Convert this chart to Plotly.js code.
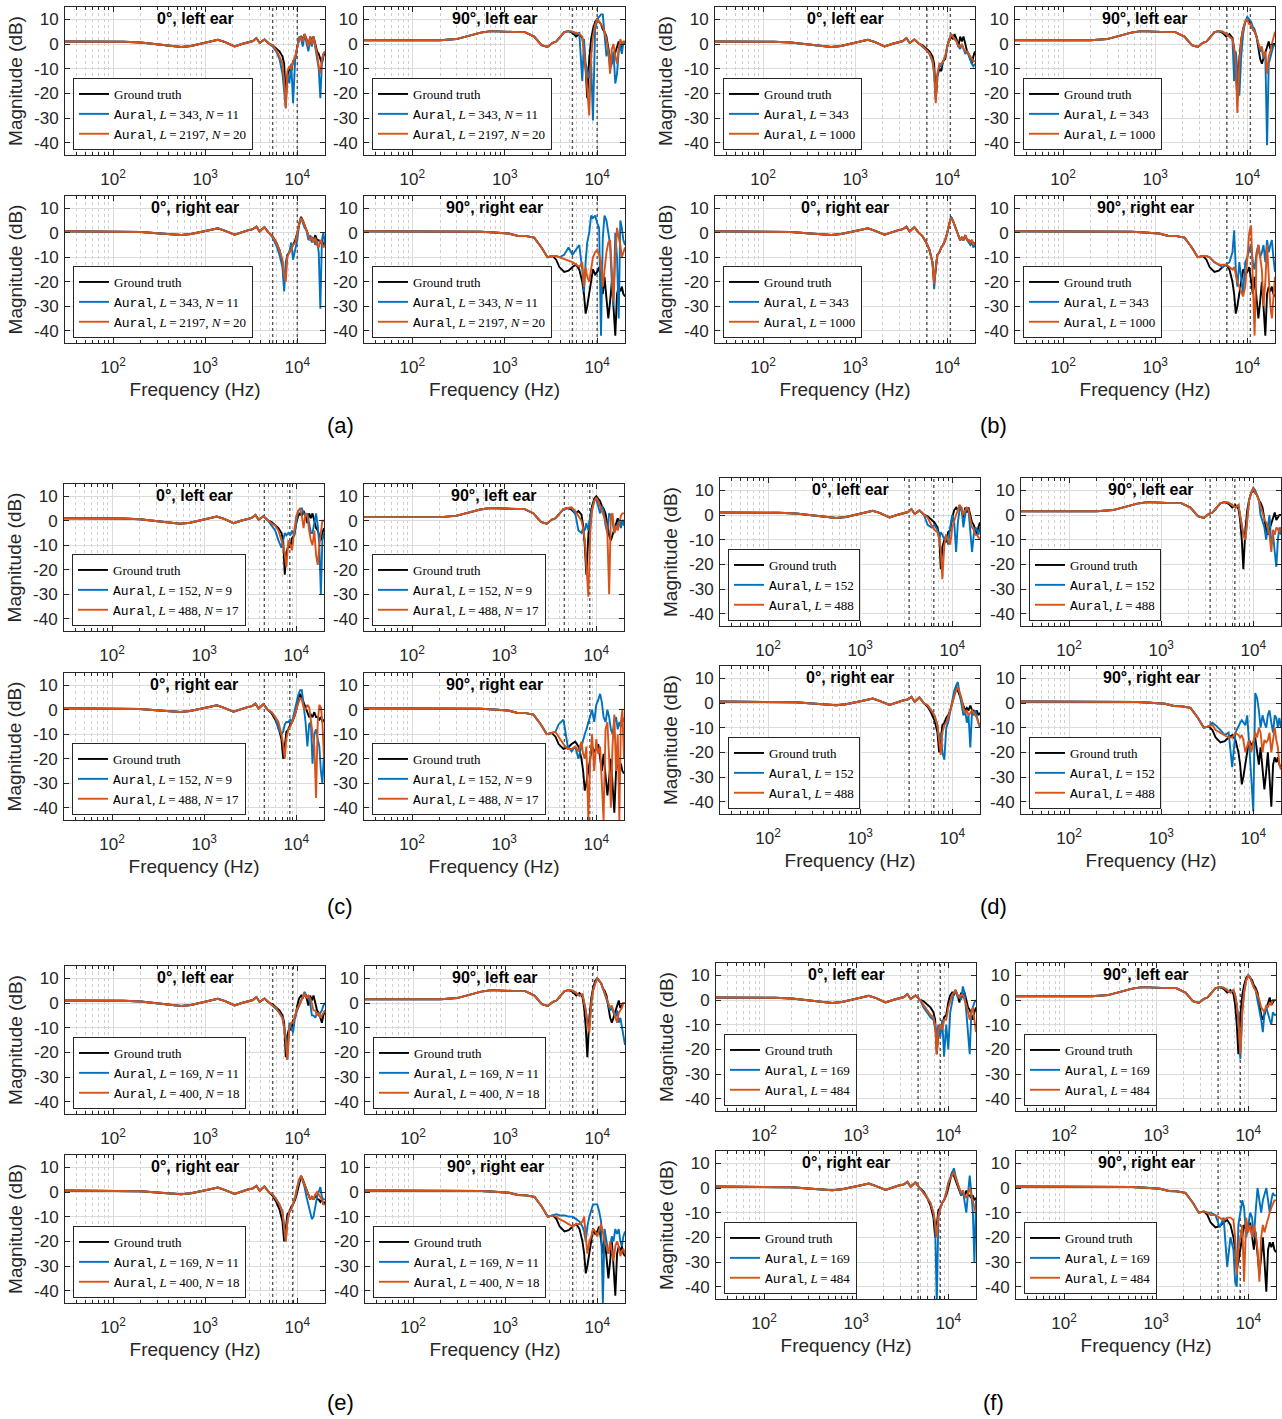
<!DOCTYPE html>
<html><head><meta charset="utf-8">
<script src="https://cdn.plot.ly/plotly-3.0.1.min.js"></script>
<style>html,body{margin:0;padding:0;background:#fff}#chart{width:1282px;height:1419px}</style>
</head><body><div id="chart"></div>
<script>
// ---------- DATA ----------
const freq = [30,50,80,130,200,300,420,550,700,900,1100,1370,1650,2080,2500,2900,3300,3600,3900,4400,4900,5400,5900,6400,6900,7200,7500,7800,8200,8600,9000,9500,10000,10500,11000,11500,12000,12600,13200,13800,14400,15000,15700,16400,17100,17800,18500,19200,20000];

// Ground truth (same subject in every panel group)
const gt0L  = [1,1,1,0.9,0.6,0,-0.6,-1.2,-0.8,0.2,0.8,1.7,0.8,-1,0,0.8,1.2,2.4,0.4,1.8,0.2, -0.5,-2,-3,-5,-8,-22,-13,-10,-11,-7,-6,-1,2,3,2,4,2,-1,3,1,3,0,-3,-4,-6,-8,-5,-3];
const gt90L = [1.5,1.5,1.5,1.5,1.5,2,3.3,4.6,5.2,5,4.8,4.8,4.8,3,-0.5,-1.2,0.5,1,2.5,4.8,5.2, 4.5,3,4,2.5,-2,-10,-22,-6,2,6,9,10,9,8,6,5,3,-2,-6,-8,-6,-3,-1,1,-2,-1,0,0];
const gt0R  = [0.6,0.6,0.6,0.5,0.3,-0.2,-0.6,-0.9,-0.5,0.5,1,1.8,0.8,-0.8,0.3,1,1.5,2.5,0.5,2.3,0, -1.5,-4,-7,-12,-20,-15,-9,-8,-6,-5,-3,0,4,6.5,5,3,1,-1,-3,-2,-3,-1,-3,-3,-4,-3,-5,-4];
const gt90R = [0.6,0.6,0.6,0.6,0.6,0.5,0.5,0.4,0.2,0,-0.3,-1.2,-1.3,-2,-6,-10,-9.5,-11,-14,-16,-15.5, -14,-13,-15,-20,-25,-33,-30,-24,-20,-15,-17,-16,-14,-20,-25,-18,-26,-35,-28,-20,-30,-42,-25,-22,-24,-22,-25,-26];

// (a)
const a0L_blue  = [1,1,1,0.9,0.6,0,-0.6,-1.2,-0.8,0.2,0.8,1.7,0.8,-1,0,0.8,1.2,2.4,0.4,1.8,0.2, -1,-3,-6,-12,-18,-26,-12,-16,-8,-24,-6,-2,3,2,-1,4,1,-3,2,-1,3,-1,-5,-10,-22,-8,-4,-3];
const a0L_orange= [1,1,1,0.9,0.6,0,-0.6,-1.2,-0.8,0.2,0.8,1.7,0.8,-1,0,0.8,1.2,2.4,0.4,1.8,0.2, -0.5,-2.5,-5,-8,-15,-26,-11,-9,-10,-7,-5,-1,2,3,1,4,2,-1,3,0,3,-1,-4,-9,-12,-6,-4,-3];
const a90L_blue = [1.5,1.5,1.5,1.5,1.5,2,3.3,4.6,5.2,5,4.8,4.8,4.8,3,-0.5,-1.2,0.5,1,2.5,4.8,5.2, 5,4,4.5,-15,2,-8,-10,-14,-8,-31,6,10,11,12,12,5,-5,-2,-10,-8,-3,-16,-12,-3,-1,-4,1,0];
const a90L_orange=[1.5,1.5,1.5,1.5,1.5,2,3.3,4.6,5.2,5,4.8,4.8,4.8,3,-0.5,-1.2,0.5,1,2.5,4.8,5.2, 5,4.5,4,3,-3,-10,-18,-29,-5,3,8,10,9,8,7,5,2,-3,-12,-2,0,-5,-8,-2,2,0,1,1];
const a0R_blue  = [0.6,0.6,0.6,0.5,0.3,-0.2,-0.6,-0.9,-0.5,0.5,1,1.8,0.8,-0.8,0.3,1,1.5,2.5,0.5,2.3,0, -2,-5,-9,-14,-24,-12,-9,-8,-4,-11,-6,-3,4,6,4,2,1,-3,-1,-4,-2,-5,-3,-8,-31,-3,0,-5];
const a0R_orange= [0.6,0.6,0.6,0.5,0.3,-0.2,-0.6,-0.9,-0.5,0.5,1,1.8,0.8,-0.8,0.3,1,1.5,2.5,0.5,2.3,0, -1.5,-4,-7,-11,-17,-20,-10,-8,-7,-5,-4,0,4,6,5,3,1,-1,-3,-2,-4,-2,-5,-6,-3,-4,-6,-5];
const a90R_blue = [0.6,0.6,0.6,0.6,0.6,0.5,0.5,0.4,0.2,0,-0.3,-1.2,-1.3,-2,-6,-10,-9.5,-9.5,-10,-9,-6, -9,-7,-5,-15,-24,-12,-4,0,7,6,7,4,2,-42,-2,7,5,0,-5,-20,-30,0,-10,-35,5,2,-3,-5];
const a90R_orange=[0.6,0.6,0.6,0.6,0.6,0.5,0.5,0.4,0.2,0,-0.3,-1.2,-1.3,-2,-6,-10,-9.5,-9.5,-10,-11,-11.5, -12,-13,-14,-12,-22,-14,-18,-20,-14,-10,-8,-7,-9,-12,-22,-15,-8,-4,-3,-15,-28,-10,2,-2,-5,-10,-8,-6];

// (b)
const b0L_blue  = [1,1,1,0.9,0.6,0,-0.6,-1.2,-0.8,0.2,0.8,1.7,0.8,-1,0,0.8,1.2,2.4,0.4,1.8,0.2, -1,-2.5,-4,-7,-12,-23,-13,-9,-9,-7,-5,-1,2,4,3,2,1,-1,-2,0,-2,-4,-3,-5,-6,-8,-9,-8];
const b0L_orange= [1,1,1,0.9,0.6,0,-0.6,-1.2,-0.8,0.2,0.8,1.7,0.8,-1,0,0.8,1.2,2.4,0.4,1.8,0.2, -0.8,-2.3,-3.8,-6.5,-11,-24,-12,-8,-8,-7,-5,-1,2,4,3,2,1,-1,-1,0,-2,-3,-3,-4,-5,-6,-7,-7];
const b90L_blue = [1.5,1.5,1.5,1.5,1.5,2,3.3,4.6,5.2,5,4.8,4.8,4.8,3,-0.5,-1.2,0.5,1,2.5,4.8,5.2, 5,4,3,2,-15,-3,-10,-21,-5,4,9,11,10,9,7,6,3,0,-3,-2,-6,-4,-41,-8,-5,-3,-1,0];
const b90L_orange=[1.5,1.5,1.5,1.5,1.5,2,3.3,4.6,5.2,5,4.8,4.8,4.8,3,-0.5,-1.2,0.5,1,2.5,4.8,5.2, 5,4,3,2,-2,-8,-28,-8,2,6,9,10,8,8,6,5,3,0,-2,-1,-5,-3,-12,-5,-3,0,2,5];
const b0R_blue  = [0.6,0.6,0.6,0.5,0.3,-0.2,-0.6,-0.9,-0.5,0.5,1,1.8,0.8,-0.8,0.3,1,1.5,2.5,0.5,2.3,0, -1.5,-4,-7,-12,-23,-14,-9,-8,-6,-5,-3,0,4,6.5,5,3,1,-1,-3,-2,-3,-1,-3,-4,-5,-4,-6,-5];
const b0R_orange= [0.6,0.6,0.6,0.5,0.3,-0.2,-0.6,-0.9,-0.5,0.5,1,1.8,0.8,-0.8,0.3,1,1.5,2.5,0.5,2.3,0, -1.5,-4,-7,-12,-21,-14,-9,-8,-6,-5,-3,0,4,6,5,3,1,-1,-3,-2,-3,-1,-3,-3,-4,-3,-5,-4];
const b90R_blue = [0.6,0.6,0.6,0.6,0.6,0.5,0.5,0.4,0.2,0,-0.3,-1.2,-1.3,-2,-6,-10,-9.5,-9.5,-10,-12,-13, -14,-13,-12,-8,1,-15,-22,-12,-18,-25,-12,-10,-7,-5,-12,-15,-8,-5,-10,-8,-5,-12,-3,-8,-5,-3,-10,-16];
const b90R_orange=[0.6,0.6,0.6,0.6,0.6,0.5,0.5,0.4,0.2,0,-0.3,-1.2,-1.3,-2,-6,-10,-9.5,-9.5,-10,-12,-13, -13,-13,-14,-15,-14,-17,-20,-22,-24,-26,-22,-12,0,3,-20,-42,-10,-5,-10,-15,-30,-20,-5,-20,-30,-35,-25,-18];

// (c)
const c0L_blue  = [1,1,1,0.9,0.6,0,-0.6,-1.2,-0.8,0.2,0.8,1.7,0.8,-1,0,0.8,1.2,2.4,0.4,1.8,0.2, -2,-4,-8,-11,-8,-5,-6,-5,-6,-4,-6,-1,4,5,5,3,2,3,-1,-5,-5,0,3,-2,-10,-30,-8,-5];
const c0L_orange= [1,1,1,0.9,0.6,0,-0.6,-1.2,-0.8,0.2,0.8,1.7,0.8,-1,0,0.8,1.2,2.4,0.4,1.8,0.2, -1,-2,-4,-8,-10,-14,-19,-8,-10,-12,-4,2,4,5,2,-3,3,2,-4,-8,-10,-4,-14,-18,-10,-5,0,0];
const c90L_blue = [1.5,1.5,1.5,1.5,1.5,2,3.3,4.6,5.2,5,4.8,4.8,4.8,3,-0.5,-1.2,0.5,1,2.5,4.8,5.2, 5,3,-4,-5,-3,-4,-1,-4,2,5,8,9,6,3,6,4,-2,-5,3,2,0,-5,-3,-1,0,-3,0,-2];
const c90L_orange=[1.5,1.5,1.5,1.5,1.5,2,3.3,4.6,5.2,5,4.8,4.8,4.8,3,-0.5,-1.2,0.5,1,2.5,4.8,5.2, 5.5,4,2,0,-3,-8,-18,-31,-5,4,8,9.5,8,6,4,2,0,-5,-30,2,3,-5,-2,-4,0,2,3,3];
const c0R_blue  = [0.6,0.6,0.6,0.5,0.3,-0.2,-0.6,-0.9,-0.5,0.5,1,1.8,0.8,-0.8,0.3,1,1.5,2.5,0.5,2.3,0, -1,-3,-8,-10,-9,-6,-5,-5,-4,-5,-1,3,6,8,8,2,-5,-15,-6,-5,-22,-10,-8,-12,-15,-25,-30,-18];
const c0R_orange= [0.6,0.6,0.6,0.5,0.3,-0.2,-0.6,-0.9,-0.5,0.5,1,1.8,0.8,-0.8,0.3,1,1.5,2.5,0.5,2.3,0, -1,-3,-5,-10,-14,-20,-12,-8,-7,-5,-3,0,3,5,4,1,0,2,1,-5,-10,-15,-36,-5,2,1,-5,-20];
const c90R_blue = [0.6,0.6,0.6,0.6,0.6,0.5,0.5,0.4,0.2,0,-0.3,-1.2,-1.3,-2,-6,-10,-9.5,-9,-6,-4,-15, -17,-15,-20,-15,-12,-10,-8,-5,-2,0,-5,2,4,6.5,3,-3,-5,0,-3,-8,-10,-5,-3,-8,-5,-7,-3,-5];
const c90R_orange=[0.6,0.6,0.6,0.6,0.6,0.5,0.5,0.4,0.2,0,-0.3,-1.2,-1.3,-2,-6,-10,-9.5,-9,-11,-14,-16, -16,-15,-17,-13,-18,-20,-15,-45,-20,-10,-25,-12,-18,-15,-30,-45,-8,-5,-20,-40,-15,-2,-25,-10,-45,-5,0,-20];

// (d)
const d0L_blue  = [1,1,1,0.9,0.6,0,-0.6,-1.2,-0.8,0.2,0.8,1.7,0.8,-1,0,0.8,1.2,2.4,0.4,1.8,0.2, -4,-5,-4,-6,-10,-7,-8,-10,-8,-12,-5,0,-3,-15,-3,2,3,-5,0,3,2,-6,-15,-8,-5,-6,-8,-5];
const d0L_orange= [1,1,1,0.9,0.6,0,-0.6,-1.2,-0.8,0.2,0.8,1.7,0.8,-1,0,0.8,1.2,2.4,0.4,1.8,0.2, -1,-4,-6,-7,-9,-15,-26,-12,-8,-10,-12,-5,-2,0,2,4,3,0,2,3,2,-2,-5,-6,-8,-8,-9,-10];
const d90L_blue = [1.5,1.5,1.5,1.5,1.5,2,3.3,4.6,5.2,5,4.8,4.8,4.8,3,-0.5,-1.2,0.5,1,2.5,4.8,5.2, 5,4,3,4,0,-5,-8,-10,0,6,9,11,10,8,6,0,-3,-5,-10,-5,0,-12,-8,-15,-21,-10,-5,-8];
const d90L_orange=[1.5,1.5,1.5,1.5,1.5,2,3.3,4.6,5.2,5,4.8,4.8,4.8,3,-0.5,-1.2,0.5,1,2.5,4.8,5.2, 5,4,3,4,0,-5,-8,-10,0,6,9,11,9,8,6,4,1,-2,-3,-5,-8,-15,-6,-8,-5,-6,-7,-5];
const d0R_blue  = [0.6,0.6,0.6,0.5,0.3,-0.2,-0.6,-0.9,-0.5,0.5,1,1.8,0.8,-0.8,0.3,1,1.5,2.5,0.5,2.3,0, -1,-3,-5,-9,-15,-12,-20,-23,-10,-8,-3,2,5,7,8.5,4,0,-5,-3,-8,-5,-18,-3,-5,-3,-6,-8,-10];
const d0R_orange= [0.6,0.6,0.6,0.5,0.3,-0.2,-0.6,-0.9,-0.5,0.5,1,1.8,0.8,-0.8,0.3,1,1.5,2.5,0.5,2.3,0, -1,-3,-5,-9,-14,-21,-12,-9,-8,-6,-3,0,3,5,6.5,4,2,-2,-4,-3,-5,-4,-3,-4,-5,-6,-8,-9];
const d90R_blue = [0.6,0.6,0.6,0.6,0.6,0.5,0.5,0.4,0.2,0,-0.3,-1.2,-1.3,-2,-6,-10,-9.5,-8,-9,-11,-13, -12,-26,-12,-9,-8,-7,-8,-9,-5,-15,-30,-44,4,2,-3,-10,-5,-8,-10,-5,-3,-8,-12,-5,-6,-10,-6,-10];
const d90R_orange=[0.6,0.6,0.6,0.6,0.6,0.5,0.5,0.4,0.2,0,-0.3,-1.2,-1.3,-2,-6,-10,-9.5,-9,-11,-12,-13, -14,-14,-12,-13,-14,-13,-15,-20,-17,-15,-20,-16,-12,-14,-10,-12,-20,-15,-16,-15,-12,-20,-14,-10,-15,-18,-25,-27];

// (e)
const e0L_blue  = [1,1,1,0.9,0.6,0,-0.6,-1.2,-0.8,0.2,0.8,1.7,0.8,-1,0,0.8,1.2,2.4,0.4,1.8,0.2, -1,-2.5,-4,-6,-10,-15,-23,-8,-10,-12,-5,-3,-1,1,3,4.5,3,2,0,-5,-5,-6,-4,-5,-4,-3,-1,0];
const e0L_orange= [1,1,1,0.9,0.6,0,-0.6,-1.2,-0.8,0.2,0.8,1.7,0.8,-1,0,0.8,1.2,2.4,0.4,1.8,0.2, -1,-2,-4,-6,-10,-15,-23,-10,-8,-8,-5,-2,-1,1,3,4,2,3,2,0,-3,-3,-5,-4,-6,-5,-4,-3];
const e90L_blue = [1.5,1.5,1.5,1.5,1.5,2,3.3,4.6,5.2,5,4.8,4.8,4.8,3,-0.5,-1.2,0.5,1,2.5,4.8,5.2, 5,4,3,3.5,0,-3,-8,-10,0,5,8,10,9,8,6,4,2,-1,-3,-2,-4,-6,-3,-8,-6,-10,-14,-17];
const e90L_orange=[1.5,1.5,1.5,1.5,1.5,2,3.3,4.6,5.2,5,4.8,4.8,4.8,3,-0.5,-1.2,0.5,1,2.5,4.8,5.2, 5,4,3,3.5,0,-3,-8,-12,0,5,8,10,9,8,6,4,2,0,-2,-1,-3,-5,-8,-4,-3,-2,0,0];
const e0R_blue  = [0.6,0.6,0.6,0.5,0.3,-0.2,-0.6,-0.9,-0.5,0.5,1,1.8,0.8,-0.8,0.3,1,1.5,2.5,0.5,2.3,0, -1,-3,-5,-8,-14,-20,-12,-8,-7,-5,-2,2,5,6.5,4,2,-2,-5,-8,-11,-10,-5,-2,0,2,-2,-3,-3];
const e0R_orange= [0.6,0.6,0.6,0.5,0.3,-0.2,-0.6,-0.9,-0.5,0.5,1,1.8,0.8,-0.8,0.3,1,1.5,2.5,0.5,2.3,0, -1,-3,-5,-8,-14,-20,-12,-8,-7,-5,-2,2,5,6.5,5,3,1,-1,-3,-2,-3,-1,0,-1,-2,-3,-5,-5];
const e90R_blue = [0.6,0.6,0.6,0.6,0.6,0.5,0.5,0.4,0.2,0,-0.3,-1.2,-1.3,-2,-6,-10,-9.5,-9,-9.5,-9.5,-10, -10,-11,-12,-14,-16,-20,-14,-10,-7,-5,-5,-5,-8,-12,-45,-15,-20,-25,-22,-18,-20,-15,-17,-15,-20,-22,-18,-16];
const e90R_orange=[0.6,0.6,0.6,0.6,0.6,0.5,0.5,0.4,0.2,0,-0.3,-1.2,-1.3,-2,-6,-10,-9.5,-10,-11,-12,-13, -14,-13,-13,-12,-10,-18,-25,-20,-18,-15,-16,-18,-15,-13,-16,-20,-22,-25,-20,-24,-28,-22,-20,-22,-26,-24,-23,-25];

// (f)
const f0L_blue  = [1,1,1,0.9,0.6,0,-0.6,-1.2,-0.8,0.2,0.8,1.7,0.8,-1,0,0.8,1.2,2.4,0.4,1.8,0.2, -3,-5,-7,-8,-11,-15,-10,-15,-8,-23,-10,-20,-5,0,3,4,1,2,0,5.5,3,-5,-14,-22,-5,-3,-1,0];
const f0L_orange= [1,1,1,0.9,0.6,0,-0.6,-1.2,-0.8,0.2,0.8,1.7,0.8,-1,0,0.8,1.2,2.4,0.4,1.8,0.2, -2,-4,-6,-7,-10,-22,-12,-10,-12,-8,-8,-3,0,2,3,4,2,1,2,2,0,-2,-5,-8,-5,-3,-8,-13];
const f90L_blue = [1.5,1.5,1.5,1.5,1.5,2,3.3,4.6,5.2,5,4.8,4.8,4.8,3,-0.5,-1.2,0.5,1,2.5,4.8,5.2, 5,4,3,4,2,-2,-8,-24,-5,3,8,10,9,7,5,4,0,-5,-8,-13,-5,-3,-6,-8,-10,-5,-6,-6];
const f90L_orange=[1.5,1.5,1.5,1.5,1.5,2,3.3,4.6,5.2,5,4.8,4.8,4.8,3,-0.5,-1.2,0.5,1,2.5,4.8,5.2, 5,4,3,4,2,-2,-8,-22,-5,3,8,10,9,7,5,4,2,0,-3,-4,-5,-2,-3,-1,-2,0,0,0];
const f0R_blue  = [0.6,0.6,0.6,0.5,0.3,-0.2,-0.6,-0.9,-0.5,0.5,1,1.8,0.8,-0.8,0.3,1,1.5,2.5,0.5,2.3,0, -2,-4,-6,-10,-15,-48,-12,-8,-6,-5,-2,2,4,6,8,5,2,-1,-3,-1,-5,-10,-2,5,-2,-10,-30,-5];
const f0R_orange= [0.6,0.6,0.6,0.5,0.3,-0.2,-0.6,-0.9,-0.5,0.5,1,1.8,0.8,-0.8,0.3,1,1.5,2.5,0.5,2.3,0, -2,-4,-6,-10,-14,-20,-11,-8,-6,-5,-2,2,4,5,6.5,4,2,0,-2,-1,-3,-4,-2,0,-3,-5,-8,-10];
const f90R_blue = [0.6,0.6,0.6,0.6,0.6,0.5,0.5,0.4,0.2,0,-0.3,-1.2,-1.3,-2,-6,-10,-9.5,-10,-10,-11,-16, -12,-32,-20,-25,-38,-40,-15,-10,-5,-8,-20,-15,-10,-12,-20,-10,0,-5,-10,-5,-2,0,-5,-10,-5,-2,-3,-3];
const f90R_orange=[0.6,0.6,0.6,0.6,0.6,0.5,0.5,0.4,0.2,0,-0.3,-1.2,-1.3,-2,-6,-10,-9.5,-10,-11,-11,-12, -13,-12,-12,-13,-20,-35,-25,-20,-15,-38,-12,-18,-15,-20,-15,-18,-25,-38,-20,-15,-18,-15,-12,-10,-8,-6,-5,-5];

// Spatial-aliasing frequencies (dotted vertical lines), per group
const aliasFreq_a = [5400, 10000];
const aliasFreq_b = [6000, 10800];
const aliasFreq_c = [4500, 8500];
const aliasFreq_d = [3400, 6300];
const aliasFreq_e = [5400, 8900];
const aliasFreq_f = [4700, 8200];

const groupLabels = ['(a)','(b)','(c)','(d)','(e)','(f)'];
const panelTitles = ['0°, left ear','90°, left ear','0°, right ear','90°, right ear'];
const legendGT = 'Ground truth';
const legendBlue = ['L=343, N=11','L=343','L=152, N=9','L=152','L=169, N=11','L=169'];
const legendOrange = ['L=2197, N=20','L=1000','L=488, N=17','L=488','L=400, N=18','L=484'];

const xTickVals = [100, 1000, 10000];
const xTickText = ['10<sup>2</sup>','10<sup>3</sup>','10<sup>4</sup>'];
const xMinorVals = [40,50,60,70,80,90,200,300,400,500,600,700,800,900,2000,3000,4000,5000,6000,7000,8000,9000,20000];
const yTickVals = [-40,-30,-20,-10,0,10];
const yTickText = ['-40','-30','-20','-10','0','10'];
const xRangeHz = [30, 20000];
const yRange = [-45, 15];

// ---------- BUILD ----------
const GT = [gt0L, gt90L, gt0R, gt90R];
const AURAL = [
  [[a0L_blue,a0L_orange],[a90L_blue,a90L_orange],[a0R_blue,a0R_orange],[a90R_blue,a90R_orange]],
  [[b0L_blue,b0L_orange],[b90L_blue,b90L_orange],[b0R_blue,b0R_orange],[b90R_blue,b90R_orange]],
  [[c0L_blue,c0L_orange],[c90L_blue,c90L_orange],[c0R_blue,c0R_orange],[c90R_blue,c90R_orange]],
  [[d0L_blue,d0L_orange],[d90L_blue,d90L_orange],[d0R_blue,d0R_orange],[d90R_blue,d90R_orange]],
  [[e0L_blue,e0L_orange],[e90L_blue,e90L_orange],[e0R_blue,e0R_orange],[e90R_blue,e90R_orange]],
  [[f0L_blue,f0L_orange],[f90L_blue,f90L_orange],[f0R_blue,f0R_orange],[f90R_blue,f90R_orange]]
];
const ALIAS = [aliasFreq_a, aliasFreq_b, aliasFreq_c, aliasFreq_d, aliasFreq_e, aliasFreq_f];

// layout boxes in pixels: [left, right] for columns, [top, bottom] for rows
const W = 1282, H = 1419;
const BOX = [
  {xl:[65,325],  xr:[364,625],   r1:[7,155],    r2:[196,343]},
  {xl:[715,975], xr:[1015,1275], r1:[7,155],    r2:[196,343]},
  {xl:[64,324],  xr:[364,624],   r1:[484,631],  r2:[673,820]},
  {xl:[720,980], xr:[1021,1281], r1:[478,626],  r2:[666,814]},
  {xl:[65,325],  xr:[365,625],   r1:[966,1114], r2:[1155,1303]},
  {xl:[716,976], xr:[1016,1276], r1:[963,1111], r2:[1151,1299]}
];
const LABELPOS = [[340,425],[993,425],[340,906],[993,906],[340,1402],[993,1402]];

const BLUE = '#0072BD', ORANGE = '#D95319', AXC = '#262626';
const SANS = 'Liberation Sans, Arial, sans-serif';

function auralName(s){
  return '<span style="font-family:Liberation Mono, DejaVu Sans Mono, monospace">Aural</span>, ' +
    s.split(', ').map(t => { const [k,v] = t.split('='); return '<i>'+k+'</i>\u2009=\u2009'+v; }).join(', ');
}

const traces = [];
const layout = {
  width: W, height: H, margin: {l:0,r:0,t:0,b:0},
  paper_bgcolor: '#fff', plot_bgcolor: '#fff', showlegend: true,
  annotations: [], font: {family: SANS, color: AXC}
};

for (let g = 0; g < 6; g++) {
  for (let p = 0; p < 4; p++) {
    const k = g*4 + p + 1;
    const xs = k === 1 ? 'x' : 'x'+k, ys = k === 1 ? 'y' : 'y'+k;
    const xa = k === 1 ? 'xaxis' : 'xaxis'+k, ya = k === 1 ? 'yaxis' : 'yaxis'+k;
    const lg = k === 1 ? 'legend' : 'legend'+k;
    const col = p % 2, row = Math.floor(p/2);
    const bx = col === 0 ? BOX[g].xl : BOX[g].xr;
    const by = row === 0 ? BOX[g].r1 : BOX[g].r2;

    [GT[p], AURAL[g][p][0], AURAL[g][p][1]].forEach((arr, i) => {
      if (arr.length !== freq.length) throw new Error('length mismatch g'+g+' p'+p+' i'+i+': '+arr.length);
    });

    // dotted alias lines
    const af = ALIAS[g];
    traces.push({
      type: 'scatter', mode: 'lines', xaxis: xs, yaxis: ys, showlegend: false, hoverinfo: 'skip',
      x: [af[0], af[0], null, af[1], af[1]], y: [yRange[0], yRange[1], null, yRange[0], yRange[1]],
      line: {color: '#555', width: 1.4, dash: 'dot'}
    });
    traces.push({type:'scatter', mode:'lines', xaxis:xs, yaxis:ys, legend: lg, name: legendGT,
      x: freq, y: GT[p], line: {color:'#000', width:1.9}});
    traces.push({type:'scatter', mode:'lines', xaxis:xs, yaxis:ys, legend: lg, name: auralName(legendBlue[g]),
      x: freq, y: AURAL[g][p][0], line: {color:BLUE, width:1.9}});
    traces.push({type:'scatter', mode:'lines', xaxis:xs, yaxis:ys, legend: lg, name: auralName(legendOrange[g]),
      x: freq, y: AURAL[g][p][1], line: {color:ORANGE, width:1.9}});

    const xax = {
      type: 'log', domain: [bx[0]/W, bx[1]/W], anchor: ys,
      range: [Math.log10(xRangeHz[0]), Math.log10(xRangeHz[1])],
      tickmode: 'array', tickvals: xTickVals, ticktext: xTickText, ticklabelstandoff: 9,
      ticks: 'inside', ticklen: 5, tickcolor: AXC, tickfont: {size: 17, color: AXC, family: SANS},
      showline: true, mirror: 'allticks', linecolor: AXC, linewidth: 1,
      showgrid: true, gridcolor: '#dcdcdc', gridwidth: 1, zeroline: false,
      minor: {tickmode: 'array', tickvals: xMinorVals, ticks: 'inside', ticklen: 3, tickcolor: AXC,
              showgrid: true, gridcolor: '#cfcfcf', griddash: 'dot', gridwidth: 1}
    };
    if (row === 1) xax.title = {text: 'Frequency (Hz)', font: {size: 19, color: AXC, family: SANS}, standoff: 6};
    layout[xa] = xax;

    const yax = {
      domain: [1 - by[1]/H, 1 - by[0]/H], anchor: xs, range: yRange,
      tickmode: 'array', tickvals: yTickVals, ticktext: yTickText, ticklabelstandoff: 2,
      ticks: 'inside', ticklen: 5, tickcolor: AXC, tickfont: {size: 17, color: AXC, family: SANS},
      showline: true, mirror: 'allticks', linecolor: AXC, linewidth: 1,
      showgrid: true, gridcolor: '#dcdcdc', gridwidth: 1, zeroline: false
    };
    if (col === 0) yax.title = {text: 'Magnitude (dB)', font: {size: 19, color: AXC, family: SANS}, standoff: 6};
    layout[ya] = yax;

    layout[lg] = {
      x: (bx[0]+8)/W, y: 1 - (by[1]-5)/H, xanchor: 'left', yanchor: 'bottom',
      bgcolor: '#fff', bordercolor: AXC, borderwidth: 1,
      font: {family: 'Liberation Serif, DejaVu Serif, serif', size: 13, color: '#000'},
      itemwidth: 30, tracegroupgap: 0, traceorder: 'normal'
    };
    layout.annotations.push({
      xref: xs + ' domain', yref: ys + ' domain', x: 0.5, y: 1, xanchor: 'center', yanchor: 'top', yshift: -1,
      text: '<b>' + panelTitles[p] + '</b>', showarrow: false, font: {family: SANS, size: 16, color: '#000'}
    });
  }
  layout.annotations.push({
    xref: 'paper', yref: 'paper', x: LABELPOS[g][0]/W, y: 1 - LABELPOS[g][1]/H, xanchor: 'center', yanchor: 'middle',
    text: groupLabels[g], showarrow: false, font: {family: SANS, size: 22, color: '#000'}
  });
}

Plotly.newPlot('chart', traces, layout, {displayModeBar: false, staticPlot: true});
</script>
</body></html>
